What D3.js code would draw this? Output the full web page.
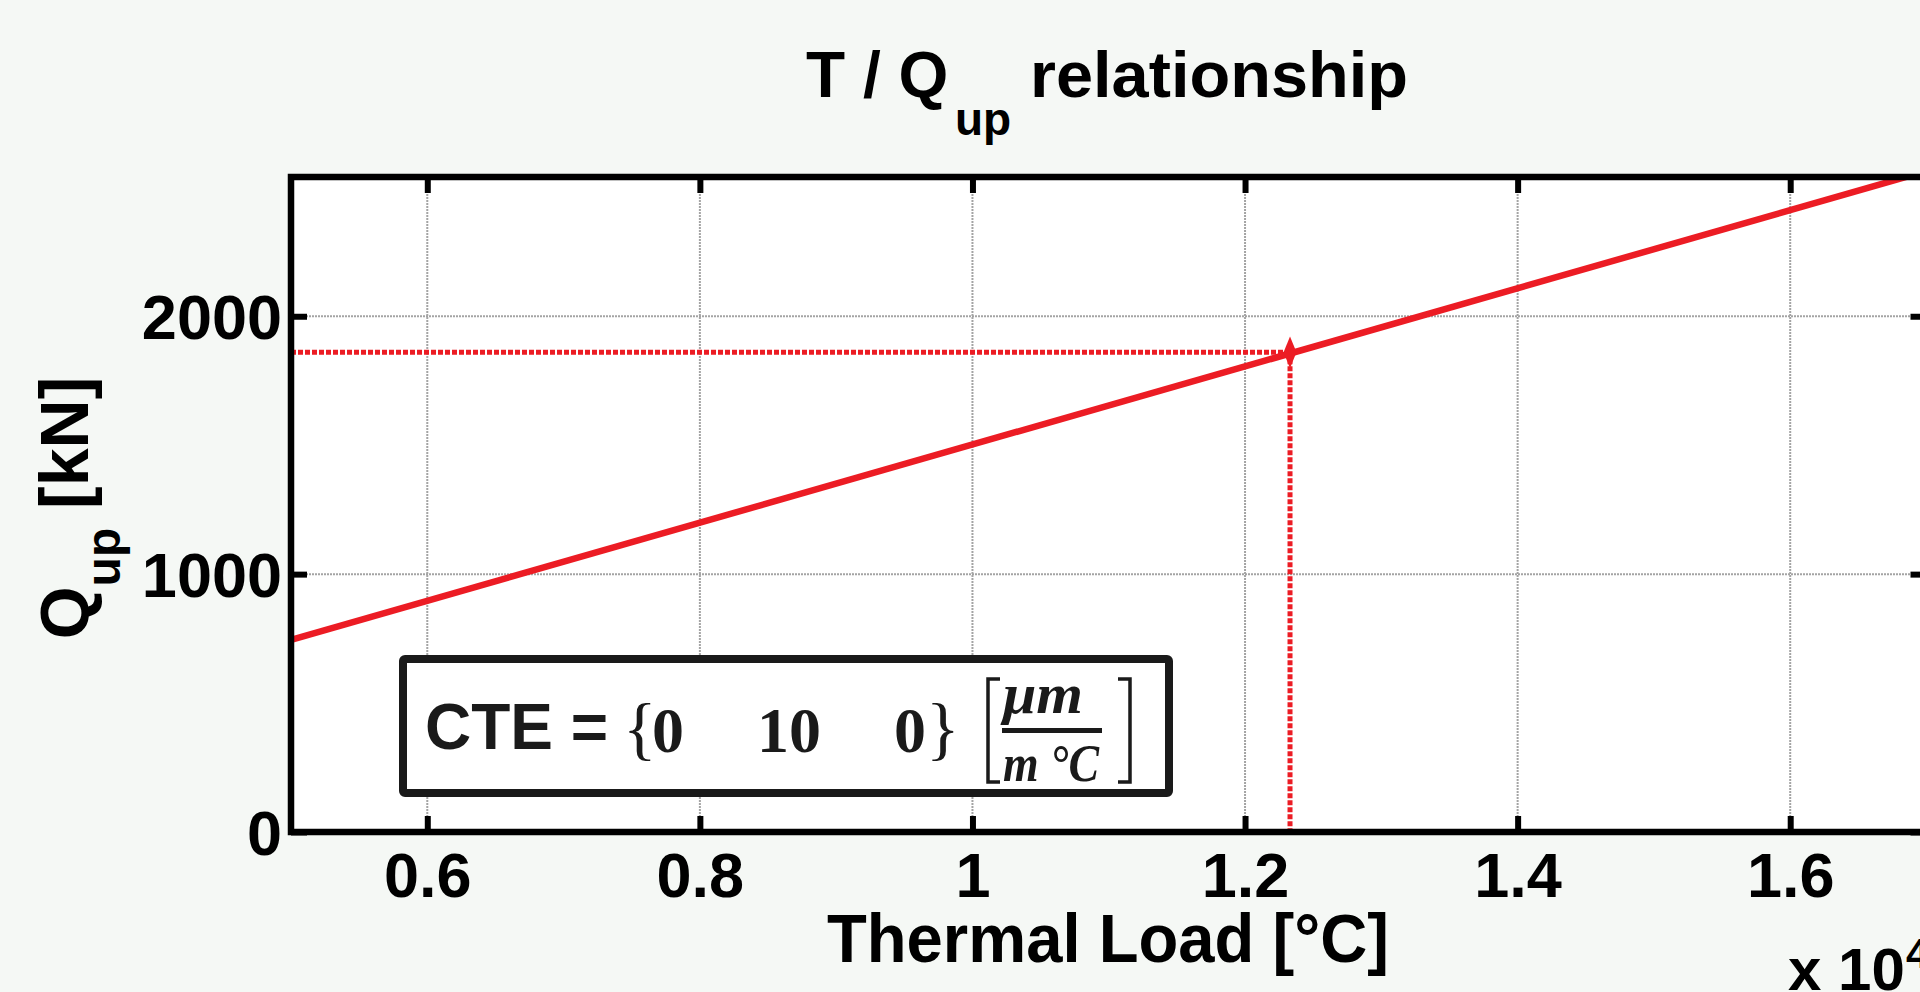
<!doctype html>
<html lang="en">
<head>
  <meta charset="utf-8">
  <title>T / Qup relationship</title>
</head>
<body style="overflow: hidden; margin: 0;">
  <script src="https://cdnjs.cloudflare.com/ajax/libs/d3/7.8.5/d3.min.js"></script>
  <script type="text/javascript">

    // values
    const thermalLoad = [5000, 17000];          // °C
    const qUp = [745, 2563];                    // kN
    const markerLoad = [12330];
    const markerQ = [1860];
    const xTicks = [6000, 8000, 10000, 12000, 14000, 16000];
    const yTicks = [0, 1000, 2000];
    const cteValues = [0, 10, 0];

    var config = {
      "width": 1920,
      "height": 992,
      "left": 291,
      "right": 1926.5,
      "top": 177,
      "bottom": 832,
      "red": "#ec1c24",
      "sans": "'Liberation Sans', Arial, Helvetica, sans-serif",
      "serif": "'Liberation Serif', 'Times New Roman', serif"
    }

    let svg = d3.select("body").append("svg")
      .attr("width", config.width)
      .attr("height", config.height)
      .style("display", "block");

    // faint slide background
    svg.append("rect")
      .attr("width", config.width).attr("height", config.height)
      .attr("fill", "#f5f8f5");

    let xScale = d3.scaleLinear()
      .domain([5000, 17000])
      .range([config.left, config.right]);
    let yScale = d3.scaleLinear()
      .domain([0, 2540])
      .range([config.bottom, config.top]);

    svg.append("defs").append("clipPath").attr("id", "plotclip")
      .append("rect")
      .attr("x", config.left).attr("y", config.top)
      .attr("width", config.right - config.left)
      .attr("height", config.bottom - config.top);

    svg.append("rect")
      .attr("x", config.left).attr("y", config.top)
      .attr("width", config.right - config.left)
      .attr("height", config.bottom - config.top)
      .attr("fill", "#fff");

    // grid
    let grid = svg.append("g")
      .attr("stroke", "#a4a4a4")
      .attr("stroke-width", 2)
      .attr("stroke-dasharray", "2,1");
    grid.selectAll(".gx").data(xTicks).enter().append("line")
      .attr("x1", d => xScale(d)).attr("x2", d => xScale(d))
      .attr("y1", yScale(0)).attr("y2", yScale(2540));
    grid.selectAll(".gy").data(yTicks.filter(d => d > 0)).enter().append("line")
      .attr("x1", config.left).attr("x2", config.right)
      .attr("y1", d => yScale(d)).attr("y2", d => yScale(d));

    // CTE box
    let box = svg.append("g");
    box.append("rect")
      .attr("x", 403).attr("y", 659)
      .attr("width", 766).attr("height", 134)
      .attr("rx", 2)
      .attr("fill", "#fff")
      .attr("stroke", "#1a1a1a")
      .attr("stroke-width", 8);
    box.append("text")
      .attr("x", 425).attr("y", 749)
      .attr("font-family", config.sans)
      .attr("font-weight", "bold")
      .attr("font-size", 64)
      .attr("fill", "#1a1a1a")
      .text("CTE =");
    box.append("text")
      .attr("x", 623).attr("y", 752)
      .attr("font-family", config.serif)
      .attr("font-size", 70)
      .attr("fill", "#1a1a1a")
      .text("{");
    box.append("text")
      .attr("x", 926).attr("y", 752)
      .attr("font-family", config.serif)
      .attr("font-size", 70)
      .attr("fill", "#1a1a1a")
      .text("}");
    let cteX = d3.scalePoint().domain(d3.range(cteValues.length)).range([668, 910]);
    box.selectAll(".cte").data(cteValues).enter().append("text")
      .attr("x", (d, i) => cteX(i)).attr("y", 752)
      .attr("text-anchor", "middle")
      .attr("font-family", config.serif)
      .attr("font-weight", "bold")
      .attr("font-size", 64)
      .attr("fill", "#1a1a1a")
      .text(d => d);
    // unit bracket [ μm / m °C ]
    box.append("path")
      .attr("d", "M1000,679 H988 V782 H1000 M1118,679 H1130 V782 H1118")
      .attr("fill", "none")
      .attr("stroke", "#1a1a1a")
      .attr("stroke-width", 3.5);
    box.append("line")
      .attr("x1", 1002).attr("x2", 1102)
      .attr("y1", 730.5).attr("y2", 730.5)
      .attr("stroke", "#1a1a1a").attr("stroke-width", 5);
    box.append("text")
      .attr("x", 1043).attr("y", 713)
      .attr("text-anchor", "middle")
      .attr("font-family", config.serif)
      .attr("font-style", "italic").attr("font-weight", "bold")
      .attr("font-size", 56)
      .attr("textLength", 80).attr("lengthAdjust", "spacingAndGlyphs")
      .attr("fill", "#1a1a1a")
      .text("μm");
    box.append("text")
      .attr("x", 1051).attr("y", 781)
      .attr("text-anchor", "middle")
      .attr("font-family", config.serif)
      .attr("font-style", "italic").attr("font-weight", "bold")
      .attr("font-size", 52)
      .attr("textLength", 96).attr("lengthAdjust", "spacingAndGlyphs")
      .attr("fill", "#1a1a1a")
      .text("m °C");

    // data
    let plot = svg.append("g").attr("clip-path", "url(#plotclip)");
    let pts = thermalLoad.map((t, i) => [t, qUp[i]]);
    plot.append("path")
      .datum(pts)
      .attr("d", d3.line().x(d => xScale(d[0])).y(d => yScale(d[1])))
      .attr("fill", "none")
      .attr("stroke", config.red)
      .attr("stroke-width", 6.5);

    markerLoad.forEach((t, i) => {
      let q = markerQ[i];
      plot.append("line")
        .attr("x1", config.left).attr("x2", xScale(t))
        .attr("y1", yScale(q)).attr("y2", yScale(q))
        .attr("stroke", config.red).attr("stroke-width", 5)
        .attr("stroke-dasharray", "5,2");
      plot.append("line")
        .attr("x1", xScale(t)).attr("x2", xScale(t))
        .attr("y1", yScale(q)).attr("y2", config.bottom)
        .attr("stroke", config.red).attr("stroke-width", 5)
        .attr("stroke-dasharray", "5,2");
      plot.append("path")
        .attr("d", d3.symbol(d3.symbolDiamond, 200)())
        .attr("transform", "translate(" + xScale(t) + "," + yScale(q) + ") scale(0.85,1.2)")
        .attr("fill", config.red);
    });

    // axes, ticks pointing inward
    let fmtX = d => d3.format("~g")(d / 10000);
    let axB = svg.append("g")
      .attr("transform", "translate(0," + config.bottom + ")")
      .call(d3.axisBottom(xScale).tickValues(xTicks).tickSizeInner(-16).tickSizeOuter(0).tickPadding(20).tickFormat(fmtX));
    let axT = svg.append("g")
      .attr("transform", "translate(0," + config.top + ")")
      .call(d3.axisTop(xScale).tickValues(xTicks).tickSizeInner(-16).tickSizeOuter(0).tickFormat(""));
    let axL = svg.append("g")
      .attr("transform", "translate(" + config.left + ",0)")
      .call(d3.axisLeft(yScale).tickValues(yTicks).tickSizeInner(-16).tickSizeOuter(0).tickPadding(9).tickFormat(d3.format("d")));
    let axR = svg.append("g")
      .attr("transform", "translate(" + config.right + ",0)")
      .call(d3.axisRight(yScale).tickValues(yTicks).tickSizeInner(-16).tickSizeOuter(0).tickFormat(""));

    [axB, axT, axL, axR].forEach(ax => {
      ax.select(".domain").remove();
      ax.selectAll(".tick line").attr("stroke", "#000").attr("stroke-width", 6);
      ax.selectAll(".tick text")
        .attr("fill", "#000")
        .style("font-family", config.sans)
        .style("font-weight", "bold")
        .style("font-size", "63px");
    });
    axL.selectAll(".tick text").attr("dy", "0.35em");

    // axes frame
    svg.append("rect")
      .attr("x", config.left).attr("y", config.top)
      .attr("width", config.right - config.left)
      .attr("height", config.bottom - config.top)
      .attr("fill", "none")
      .attr("stroke", "#000")
      .attr("stroke-width", 6.5);

    // title
    let title = svg.append("text")
      .attr("x", 806).attr("y", 97)
      .attr("font-family", config.sans)
      .attr("font-weight", "bold")
      .attr("font-size", 64)
      .attr("fill", "#000");
    title.append("tspan").text("T / Q");
    title.append("tspan").attr("x", 955).attr("font-size", 46).attr("dy", 38).text("up");
    title.append("tspan").attr("x", 1030).attr("dy", -38)
      .attr("textLength", 378).attr("lengthAdjust", "spacingAndGlyphs")
      .text("relationship");

    // x label
    svg.append("text")
      .attr("x", 827).attr("y", 962)
      .attr("font-family", config.sans)
      .attr("font-weight", "bold")
      .attr("font-size", 69)
      .attr("textLength", 562).attr("lengthAdjust", "spacingAndGlyphs")
      .attr("fill", "#000")
      .text("Thermal Load [°C]");

    // y label
    let ylab = svg.append("text")
      .attr("transform", "translate(88,508) rotate(-90)")
      .attr("text-anchor", "middle")
      .attr("font-family", config.sans)
      .attr("font-weight", "bold")
      .attr("font-size", 68)
      .attr("fill", "#000");
    ylab.append("tspan").text("Q");
    ylab.append("tspan").attr("font-size", 48).attr("dy", 32).text("up");
    ylab.append("tspan").attr("dy", -32).text(" [kN]");

    // exponent note
    let expo = svg.append("text")
      .attr("x", 1788).attr("y", 990)
      .attr("font-family", config.sans)
      .attr("font-weight", "bold")
      .attr("font-size", 60)
      .attr("fill", "#000");
    expo.append("tspan").text("x 10");
    expo.append("tspan").attr("x", 1906).attr("font-size", 42).attr("dy", -22).text("4");

  </script>
</body>
</html>
